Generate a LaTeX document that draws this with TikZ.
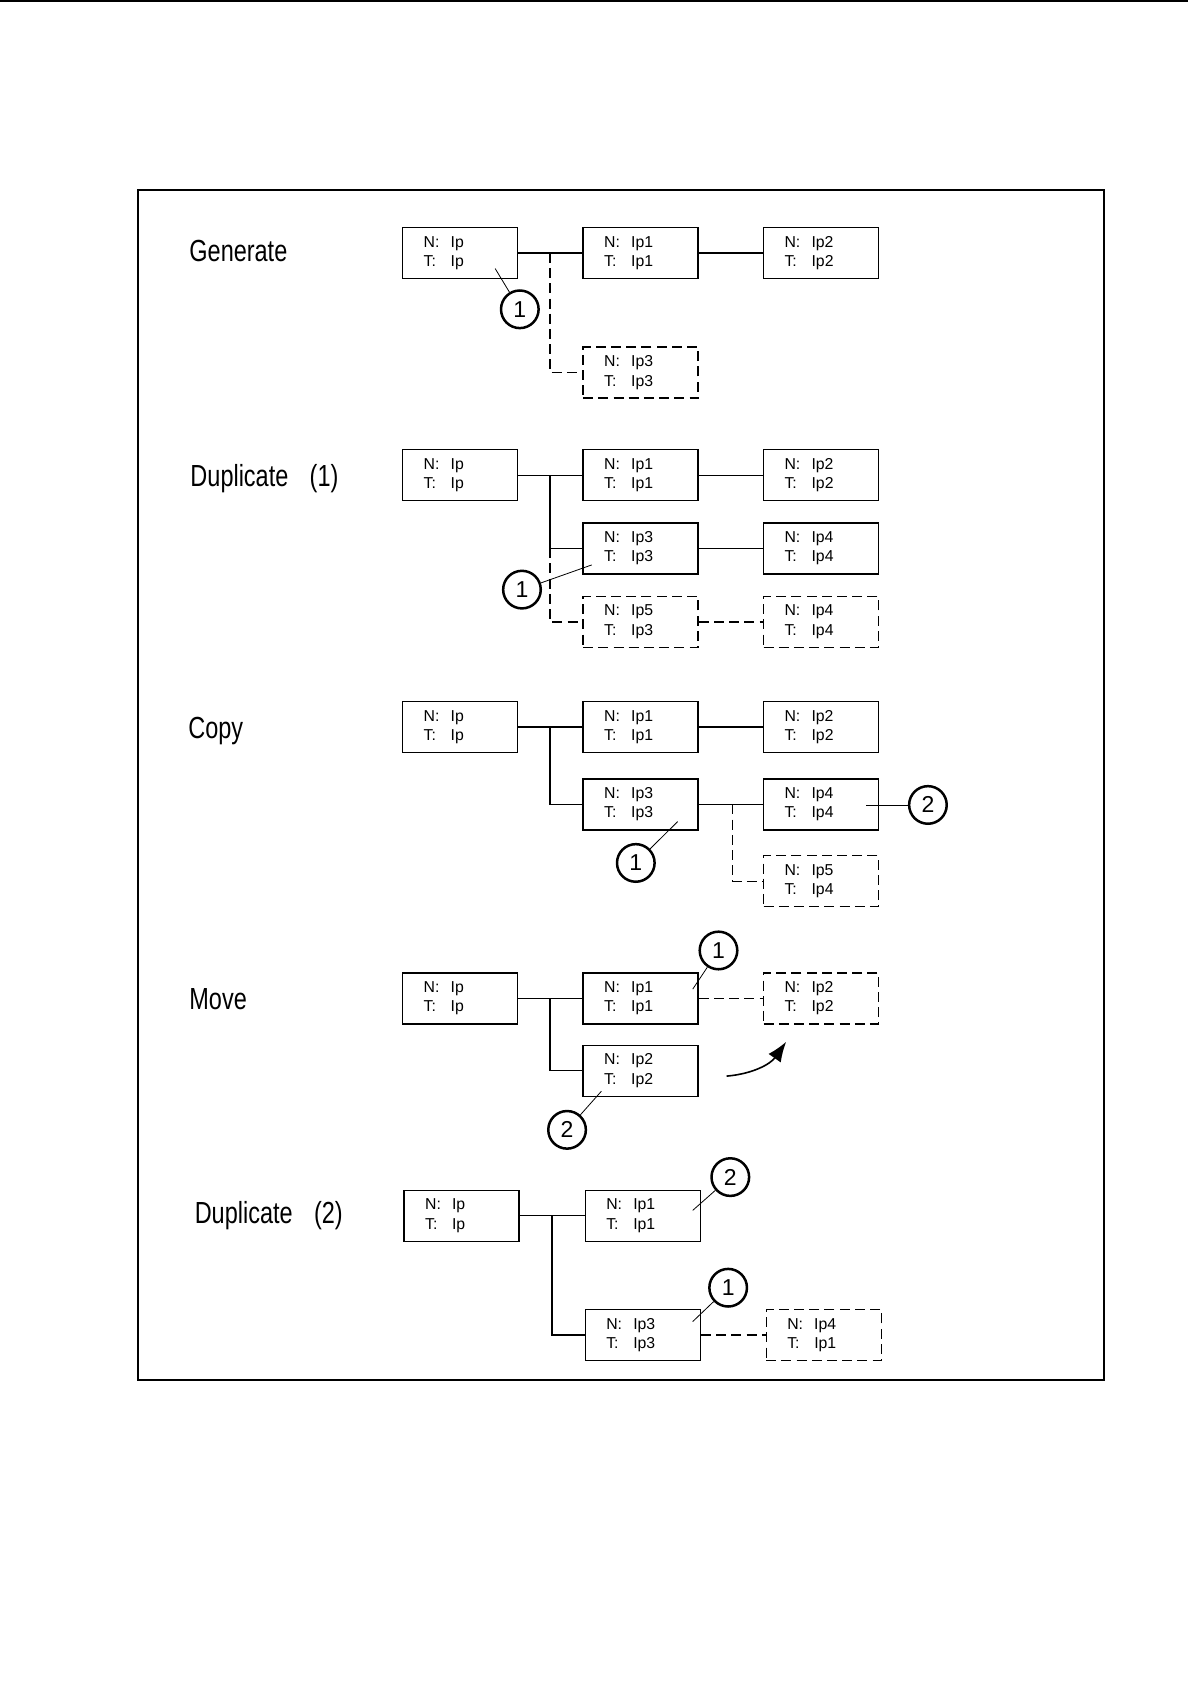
\documentclass[tikz,border=0pt]{standalone}
\usepackage{fontspec}
\setmainfont{Liberation Sans}
\newfontfamily\labelfont[FakeStretch=0.77]{Liberation Sans}
\usetikzlibrary{arrows.meta}
\newcommand{\nt}[2]{\makebox[13.5pt][l]{N:}#1\\\makebox[13.5pt][l]{T:}#2}

\begin{document}
\begin{tikzpicture}[x=0.537pt,y=-0.537pt,
  box/.style={draw,line width=0.75pt,minimum width=57.5pt,minimum height=25.5pt,
    text width=36.5pt,inner xsep=10.3pt,inner ysep=0pt,align=left,
    font=\fontsize{7.9}{9.65}\selectfont},
  ghost/.style={box,dash pattern=on 5pt off 2.6pt},
  link/.style={line width=0.7pt},
  glink/.style={link,dash pattern=on 5pt off 2.6pt},
  tag/.style={draw,circle,line width=1.25pt,minimum size=18.8pt,inner sep=0pt,
    font=\fontsize{11.5}{12}\selectfont},
  lead/.style={line width=0.4pt},
  oplabel/.style={inner sep=0pt,anchor=base west,font=\labelfont\fontsize{15.25}{18}\selectfont}]
\useasboundingbox (0,0) rectangle (1106,1568);
\draw[line width=1pt] (0,0.9) -- (1106,0.9);
\draw[line width=0.7pt] (128.5,177) rectangle (1028,1285);

% Generate
\node[oplabel] (gl) at (176,243.5) {Generate};
\node[box] (gA) at (428.5,235.5) {\nt{Ip}{Ip}};
\node[box] (gB) at (596.5,235.5) {\nt{Ip1}{Ip1}};
\node[box] (gC) at (764.5,235.5) {\nt{Ip2}{Ip2}};
\node[ghost] (gD) at (596.5,347) {\nt{Ip3}{Ip3}};
\coordinate (gj) at (512,235.5);
\draw[link] (gA) -- (gB);
\draw[link] (gB) -- (gC);
\draw[glink] (gj) |- (gD.west);
\node[tag] (g1) at (484,288) {1};
\coordinate (g1p) at (461,250);
\draw[lead] (g1) -- (g1p);

% Duplicate (1)
\node[oplabel] (dl) at (177,453) {Duplicate\hspace{0.7em}(1)};
\node[box] (dA) at (428.5,442.5) {\nt{Ip}{Ip}};
\node[box] (dB) at (596.5,442.5) {\nt{Ip1}{Ip1}};
\node[box] (dC) at (764.5,442.5) {\nt{Ip2}{Ip2}};
\node[box] (dD) at (596.5,510.5) {\nt{Ip3}{Ip3}};
\node[box] (dE) at (764.5,510.5) {\nt{Ip4}{Ip4}};
\node[ghost] (dF) at (596.5,579) {\nt{Ip5}{Ip3}};
\node[ghost] (dG) at (764.5,579) {\nt{Ip4}{Ip4}};
\coordinate (dj) at (512,442.5);
\coordinate (dk) at (512,510.5);
\draw[link] (dA) -- (dB);
\draw[link] (dB) -- (dC);
\draw[link] (dj) |- (dD.west);
\draw[glink] (dk) |- (dF.west);
\draw[link] (dD) -- (dE);
\draw[glink] (dF) -- (dG);
\node[tag] (d1) at (486,549) {1};
\coordinate (d1p) at (551,526);
\draw[lead] (d1) -- (d1p);

% Copy
\node[oplabel] (cl) at (175,688) {Copy};
\node[box] (cA) at (428.5,677) {\nt{Ip}{Ip}};
\node[box] (cB) at (596.5,677) {\nt{Ip1}{Ip1}};
\node[box] (cC) at (764.5,677) {\nt{Ip2}{Ip2}};
\node[box] (cD) at (596.5,749) {\nt{Ip3}{Ip3}};
\node[box] (cE) at (764.5,749) {\nt{Ip4}{Ip4}};
\node[ghost] (cF) at (764.5,820.5) {\nt{Ip5}{Ip4}};
\coordinate (cj) at (512,677);
\coordinate (ck) at (682,749);
\draw[link] (cA) -- (cB);
\draw[link] (cB) -- (cC);
\draw[link] (cj) |- (cD.west);
\draw[link] (cD) -- (cE);
\draw[glink] (ck) |- (cF.west);
\node[tag] (c1) at (592,803.5) {1};
\coordinate (c1p) at (631,765);
\draw[lead] (c1) -- (c1p);
\node[tag] (c2) at (864,749.5) {2};
\coordinate (c2p) at (806,749.5);
\draw[lead] (c2) -- (c2p);

% Move
\node[oplabel] (ml) at (176,940) {Move};
\node[box] (mA) at (428.5,929.5) {\nt{Ip}{Ip}};
\node[box] (mB) at (596.5,929.5) {\nt{Ip1}{Ip1}};
\node[ghost] (mC) at (764.5,929.5) {\nt{Ip2}{Ip2}};
\node[box] (mD) at (596.5,997) {\nt{Ip2}{Ip2}};
\coordinate (mj) at (512,929.5);
\draw[link] (mA) -- (mB);
\draw[glink] (mB) -- (mC);
\draw[link] (mj) |- (mD.west);
\node[tag] (m1) at (669,885) {1};
\coordinate (m1p) at (645,921);
\draw[lead] (m1) -- (m1p);
\node[tag] (m2) at (528,1052) {2};
\coordinate (m2p) at (560,1016);
\draw[lead] (m2) -- (m2p);
\coordinate (ms) at (676.5,1002);
\coordinate (me) at (732,970);
\draw[line width=0.8pt,-{Latex[length=10pt,width=7.5pt]}] (ms) to[bend right=25] (me);

% Duplicate (2)
\node[oplabel] (el) at (181,1139) {Duplicate\hspace{0.7em}(2)};
\node[box] (eA) at (429.8,1132) {\nt{Ip}{Ip}};
\node[box] (eB) at (598.5,1132) {\nt{Ip1}{Ip1}};
\node[box] (eD) at (598.5,1243) {\nt{Ip3}{Ip3}};
\node[ghost] (eE) at (767,1243) {\nt{Ip4}{Ip1}};
\coordinate (ej) at (514,1132);
\draw[link] (eA) -- (eB);
\draw[link] (ej) |- (eD.west);
\draw[glink] (eD) -- (eE);
\node[tag] (e2) at (680,1096) {2};
\coordinate (e2p) at (645,1127);
\draw[lead] (e2) -- (e2p);
\node[tag] (e1) at (678,1199) {1};
\coordinate (e1p) at (645,1230.5);
\draw[lead] (e1) -- (e1p);
\end{tikzpicture}
\end{document}
